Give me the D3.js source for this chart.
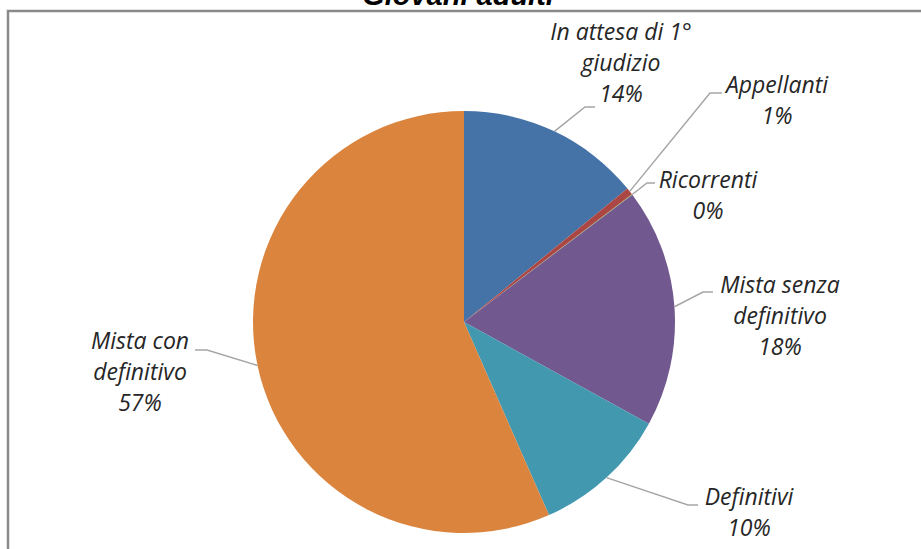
<!DOCTYPE html>
<html>
<head>
<meta charset="utf-8">
<script src="https://cdn.jsdelivr.net/npm/d3@7"></script>
<style>
  body { margin: 0; background: #fff; }
  svg { display: block; }
</style>
</head>
<body>
<svg id="chart" width="921" height="549"></svg>
<script>
// dati
let categories = ["In attesa di 1° giudizio", "Appellanti", "Ricorrenti", "Mista senza definitivo", "Definitivi", "Mista con definitivo"]
let values = [14.1, 0.55, 0.05, 18.3, 10.4, 56.6]
let pctLabels = ["14%", "1%", "0%", "18%", "10%", "57%"]
let labelLines = [["In attesa di 1°", "giudizio"], ["Appellanti"], ["Ricorrenti"], ["Mista senza", "definitivo"], ["Definitivi"], ["Mista con", "definitivo"]]
let colors = ["#4572A7", "#AA4643", "#89A54E", "#71588F", "#4198AF", "#DB843D"]

let width = 921
let height = 549
let cx = 464, cy = 322, radius = 211
let lineH = 31

// posizione etichette: centro testo, prima baseline, gomito e fine linea guida
let labelLayout = [
    { x: 621, y: 40, elbow: [585, 107], end: [595, 107] },
    { x: 777, y: 93, elbow: [710, 93], end: [722, 93] },
    { x: 708, y: 188, elbow: [647, 183], end: [655, 183] },
    { x: 780, y: 293, elbow: [703, 292], end: [713, 292] },
    { x: 749, y: 505, elbow: [688, 505], end: [698, 505] },
    { x: 140, y: 349, elbow: [207, 350], end: [195, 350] }
]

let svg = d3.select("#chart")

// cornice
svg.append("path")
    .attr("d", "M8," + height + " L8,11 L" + width + ",11")
    .attr("fill", "none")
    .attr("stroke", "#8a8a8a")
    .attr("stroke-width", 2.5)

// titolo (tagliato in alto come nell'originale)
svg.append("text")
    .attr("x", 458)
    .attr("y", 5)
    .attr("text-anchor", "middle")
    .attr("font-family", "'Liberation Sans', Arial, sans-serif")
    .attr("font-weight", "bold")
    .attr("font-style", "italic")
    .attr("font-size", "29px")
    .attr("fill", "#000")
    .text("Giovani adulti")

let pie = d3.pie().sort(null).value(d => d)
let arcs = pie(values)
let arc = d3.arc().innerRadius(0).outerRadius(radius)

let g = svg.append("g").attr("transform", "translate(" + cx + "," + cy + ")")
g.selectAll("path")
    .data(arcs)
    .enter()
    .append("path")
    .attr("d", arc)
    .attr("fill", (d, i) => colors[i])

// linee guida
let lineGen = d3.line()
arcs.forEach(function (d, i) {
    let a = (d.startAngle + d.endAngle) / 2
    let start = [cx + radius * Math.sin(a), cy - radius * Math.cos(a)]
    let lay = labelLayout[i]
    svg.append("path")
        .attr("d", lineGen([start, lay.elbow, lay.end]))
        .attr("fill", "none")
        .attr("stroke", "#a6a6a6")
        .attr("stroke-width", 1.5)
})

// etichette
labelLayout.forEach(function (lay, i) {
    let lines = labelLines[i].concat([pctLabels[i]])
    let t = svg.append("text")
        .attr("text-anchor", "middle")
        .attr("font-family", "'Open Sans', sans-serif")
        .attr("font-style", "italic")
        .attr("font-size", "23px")
        .attr("fill", "#262626")
    lines.forEach(function (s, k) {
        t.append("tspan")
            .attr("x", lay.x)
            .attr("y", lay.y + k * lineH)
            .text(s)
    })
})
</script>
</body>
</html>
